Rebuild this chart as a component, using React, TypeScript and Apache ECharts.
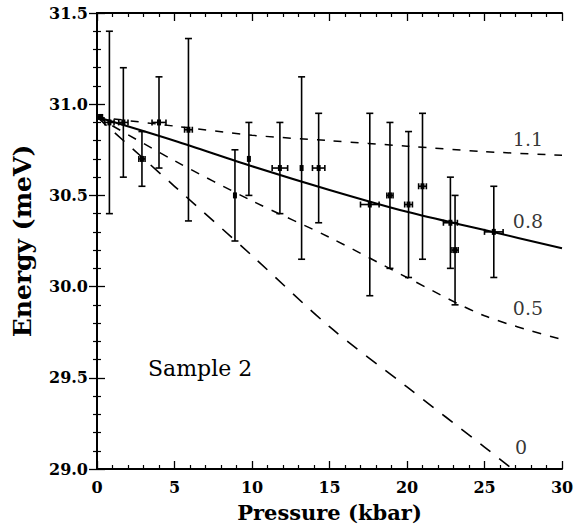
import React, { useEffect, useRef } from "react";
import * as echarts from "echarts";

// Measured data points (pressure in kbar, energy in meV)
const pressure = [0.2, 0.8, 1.7, 2.9, 4.0, 5.9, 8.9, 9.8, 11.8, 13.2, 14.3, 17.6, 18.9, 20.1, 21.0, 22.8, 23.1, 25.6];
const energy = [30.93, 30.9, 30.9, 30.7, 30.9, 30.86, 30.5, 30.7, 30.65, 30.65, 30.65, 30.45, 30.5, 30.45, 30.55, 30.35, 30.2, 30.3];
const energyErr = [0, 0.5, 0.3, 0.15, 0.25, 0.5, 0.25, 0.2, 0.25, 0.5, 0.3, 0.5, 0.4, 0.4, 0.4, 0.25, 0.3, 0.25];
const pressureErr = [0.15, 0.3, 0.3, 0.2, 0.45, 0.25, 0, 0, 0.5, 0, 0.4, 0.6, 0.2, 0.25, 0.25, 0.45, 0.2, 0.6];

// Model curves
const curveP = [0, 5, 10, 15, 20, 25, 30];
const curve11 = [30.93, 30.88, 30.83, 30.8, 30.77, 30.74, 30.72];
const curve08 = [30.93, 30.8, 30.66, 30.53, 30.41, 30.31, 30.21];
const curve05 = [30.93, 30.69, 30.47, 30.27, 30.05, 29.84, 29.71];
const curve0P = [0, 5, 10, 15, 20, 25, 26.8];
const curve0 = [30.93, 30.55, 30.17, 29.78, 29.45, 29.12, 29.0];

// Curve labels
const curveLabels = ["1.1", "0.8", "0.5", "0"];
const labelP = [27.8, 27.8, 27.8, 27.35];
const labelE = [30.81, 30.36, 29.88, 29.12];

const xTicks = [0, 5, 10, 15, 20, 25, 30];
const yTicks = [29.0, 29.5, 30.0, 30.5, 31.0, 31.5];

const FONT = "'DejaVu Serif', serif";

export default function App() {
  const ref = useRef<HTMLDivElement>(null);
  useEffect(() => {
    const chart = echarts.init(ref.current!, null, { renderer: "svg" });
    const zip = (xs: number[], ys: number[]) => xs.map((x, i) => [x, ys[i]]);
    const errData = pressure.map((p, i) => [p, energy[i], pressureErr[i], energyErr[i]]);
    const axisCommon = {
      type: "value",
      axisLine: { show: true, lineStyle: { color: "#000", width: 2 } },
      axisTick: { show: true, inside: true, length: 8, lineStyle: { color: "#000", width: 1.3 } },
      minorTick: { show: true, splitNumber: 5, length: 4, lineStyle: { color: "#000", width: 1.2 } },
      splitLine: { show: false },
    };
    const labelStyle = { color: "#000", fontFamily: FONT, fontSize: 16, fontWeight: "bold" };
    chart.setOption({
      animation: false,
      backgroundColor: "#fff",
      grid: { left: 97, right: 20, top: 13, bottom: 60 },
      xAxis: [
        {
          ...axisCommon,
          min: xTicks[0],
          max: xTicks[xTicks.length - 1],
          interval: 5,
          position: "bottom",
          axisLabel: { ...labelStyle, margin: 10, formatter: (v: number) => String(v) },
          name: "Pressure (kbar)",
          nameLocation: "middle",
          nameGap: 33,
          nameTextStyle: { color: "#000", fontFamily: FONT, fontSize: 21, fontWeight: "bold" },
        },
        {
          ...axisCommon,
          min: xTicks[0],
          max: xTicks[xTicks.length - 1],
          interval: 5,
          position: "top",
          axisLabel: { show: false },
        },
      ],
      yAxis: [
        {
          ...axisCommon,
          min: yTicks[0],
          max: yTicks[yTicks.length - 1],
          interval: 0.5,
          position: "left",
          axisLabel: { ...labelStyle, margin: 9, formatter: (v: number) => v.toFixed(1) },
          name: "Energy (meV)",
          nameLocation: "middle",
          nameGap: 62,
          nameRotate: 90,
          nameTextStyle: { color: "#000", fontFamily: FONT, fontSize: 25, fontWeight: "bold" },
        },
        {
          ...axisCommon,
          min: yTicks[0],
          max: yTicks[yTicks.length - 1],
          interval: 0.5,
          position: "right",
          axisLabel: { show: false },
        },
      ],
      graphic: [
        {
          type: "text",
          left: 148,
          top: 357,
          style: { text: "Sample 2", fill: "#000", font: `22px ${FONT}` },
        },
      ],
      series: [
        {
          type: "line",
          data: zip(curveP, curve11),
          smooth: 0.3,
          showSymbol: false,
          lineStyle: { color: "#000", width: 1.5, type: [8, 9] },
        },
        {
          type: "line",
          data: zip(curveP, curve08),
          smooth: 0.3,
          showSymbol: false,
          lineStyle: { color: "#000", width: 2 },
        },
        {
          type: "line",
          data: zip(curveP, curve05),
          smooth: 0.3,
          showSymbol: false,
          lineStyle: { color: "#000", width: 1.5, type: [9, 9] },
        },
        {
          type: "line",
          data: zip(curve0P, curve0),
          smooth: 0.3,
          showSymbol: false,
          clip: true,
          lineStyle: { color: "#000", width: 1.6, type: [13, 11] },
        },
        {
          type: "custom",
          coordinateSystem: "cartesian2d",
          encode: { x: 0, y: 1 },
          data: errData,
          renderItem: (params: any, api: any) => {
            const x = api.value(0);
            const y = api.value(1);
            const xe = api.value(2);
            const ye = api.value(3);
            const c = api.coord([x, y]);
            const st = { stroke: "#000", lineWidth: 1.6 };
            const children: any[] = [];
            if (ye > 0) {
              const t = api.coord([x, y + ye]);
              const b = api.coord([x, y - ye]);
              children.push({ type: "line", shape: { x1: c[0], y1: t[1], x2: c[0], y2: b[1] }, style: st });
              children.push({ type: "line", shape: { x1: c[0] - 3.5, y1: t[1], x2: c[0] + 3.5, y2: t[1] }, style: st });
              children.push({ type: "line", shape: { x1: c[0] - 3.5, y1: b[1], x2: c[0] + 3.5, y2: b[1] }, style: st });
            }
            if (xe > 0) {
              const l = api.coord([x - xe, y]);
              const r = api.coord([x + xe, y]);
              children.push({ type: "line", shape: { x1: l[0], y1: c[1], x2: r[0], y2: c[1] }, style: st });
              children.push({ type: "line", shape: { x1: l[0], y1: c[1] - 3, x2: l[0], y2: c[1] + 3 }, style: st });
              children.push({ type: "line", shape: { x1: r[0], y1: c[1] - 3, x2: r[0], y2: c[1] + 3 }, style: st });
            }
            children.push({
              type: "rect",
              shape: { x: c[0] - 2, y: c[1] - 3, width: 4, height: 6 },
              style: { fill: "#000" },
            });
            return { type: "group", children };
          },
        },
        {
          type: "scatter",
          symbolSize: 0,
          data: curveLabels.map((t, i) => ({ value: [labelP[i], labelE[i]], name: t })),
          label: {
            show: true,
            position: "inside",
            formatter: (p: any) => p.name,
            color: "#000",
            fontFamily: FONT,
            fontSize: 19,
          },
        },
      ],
    });
    return () => chart.dispose();
  }, []);
  return <div ref={ref} style={{ position: "fixed", left: 0, top: 0, width: 582, height: 529 }} />;
}
